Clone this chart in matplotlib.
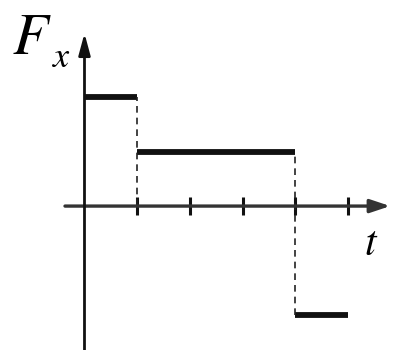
import matplotlib
matplotlib.use("Agg")
import matplotlib.pyplot as plt

plt.rcParams['mathtext.fontset'] = 'stix'

# step force: value held over each time interval
t_start = [0, 1, 4]
t_end = [1, 4, 5]
force = [2, 1, -2]
tick_t = [1, 2, 3, 4, 5]

fig = plt.figure(figsize=(3.96, 3.5), dpi=100)
ax = fig.add_axes([0, 0, 1, 1])
ax.set_xlim(-1.603, 5.91)
ax.set_ylim(-2.64, 3.78)
ax.axis('off')

# axes with arrows
ax.annotate('', xy=(5.8, 0), xytext=(-0.37, 0),
            arrowprops=dict(arrowstyle='-|>,head_length=1.2,head_width=0.4',
                            color='#333333', lw=2.4, shrinkA=0, shrinkB=0))
ax.annotate('', xy=(0, 3.17), xytext=(0, -2.75),
            arrowprops=dict(arrowstyle='-|>,head_length=1.3,head_width=0.35',
                            color='#111111', lw=2.0, shrinkA=0, shrinkB=0))

# tick marks
ax.vlines(tick_t, -0.16, 0.16, color='#111111', lw=2.2)

# force steps
ax.hlines(force, t_start, t_end, color='#111111', lw=4.2)

# dashed jumps between steps
for i in range(1, len(force)):
    lo, hi = sorted([force[i - 1], force[i]])
    if i == 1:
        lo = 0
    ax.vlines(t_start[i], lo, hi, color='#222222', lw=1.2, linestyles=(0, (4, 3)))

ax.text(-1.38, 3.62, r'$F$', fontsize=42, va='top', ha='left')
ax.text(-0.62, 3.05, r'$x$', fontsize=26, va='top', ha='left')
ax.text(5.3, -0.3, r'$t$', fontsize=30, va='top', ha='left')

fig.savefig('out.png', dpi=100)
